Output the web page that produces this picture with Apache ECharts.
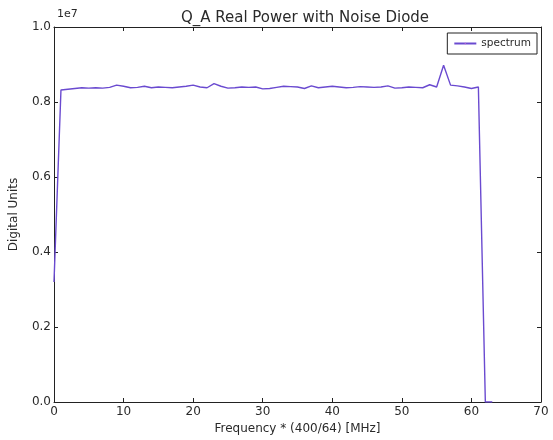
<!DOCTYPE html>
<html>
<head>
<meta charset="utf-8">
<script src="https://cdn.jsdelivr.net/npm/echarts@6/dist/echarts.min.js"></script>
<style>
html,body{margin:0;padding:0;background:#fff;}
#c{width:553px;height:440px;}
</style>
</head>
<body>
<div id="c"></div>
<script>
// Channel index (Frequency * (400/64) [MHz])
var channels = [];
for (var i = 0; i < 64; i++) channels.push(i);
// Power in units of 1e7 digital units
var power = [
  0.320, 0.832, 0.834, 0.836, 0.838, 0.837, 0.838, 0.837, 0.839, 0.845,
  0.842, 0.838, 0.839, 0.842, 0.838, 0.840, 0.839, 0.838, 0.840, 0.842,
  0.845, 0.840, 0.838, 0.849, 0.842, 0.837, 0.838, 0.840, 0.839, 0.840,
  0.835, 0.836, 0.839, 0.842, 0.841, 0.840, 0.836, 0.843, 0.838, 0.840,
  0.842, 0.840, 0.838, 0.839, 0.841, 0.840, 0.839, 0.840, 0.843, 0.837,
  0.838, 0.840, 0.839, 0.838, 0.846, 0.840, 0.898, 0.845, 0.843, 0.840,
  0.836, 0.840, 0.000, 0.000
];
var xTicks = [0, 10, 20, 30, 40, 50, 60, 70];
var yTicks = [0.0, 0.2, 0.4, 0.6, 0.8, 1.0];

var pairs = channels.map(function (c, i) { return [c, power[i]]; });
var font = 'DejaVu Sans';
var txt = '#2a2a2a';
var chart = echarts.init(document.getElementById('c'), null, {renderer: 'canvas'});
function common() {
  return {
    axisLine: {show: true, onZero: false, lineStyle: {color: '#222', width: 1}},
    axisTick: {show: true, inside: true, length: 4, lineStyle: {color: '#222'}},
    splitLine: {show: false}
  };
}
chart.setOption({
  backgroundColor: '#fff',
  animation: false,
  title: {
    text: 'Q_A Real Power with Noise Diode',
    left: 300, top: 6, textAlign: 'center',
    textStyle: {fontFamily: font, fontSize: 15, fontWeight: 'normal', color: txt}
  },
  legend: {
    right: 16, top: 33,
    data: ['spectrum'],
    orient: 'vertical',
    itemWidth: 22, itemHeight: 2,
    padding: [5, 6, 5, 6],
    borderColor: '#222', borderWidth: 1,
    textStyle: {fontFamily: font, fontSize: 10.5, color: txt}
  },
  graphic: [{
    type: 'text', left: 57, top: 9,
    style: {text: '1e7', fontFamily: font, fontSize: 11, fill: txt}
  }],
  grid: {left: 53, right: 12, top: 27, bottom: 38},
  xAxis: [Object.assign(common(), {
    type: 'value', min: 0, max: 70, interval: 10, position: 'bottom',
    name: 'Frequency * (400/64) [MHz]', nameLocation: 'middle', nameGap: 20,
    nameTextStyle: {fontFamily: font, fontSize: 12, color: txt},
    axisLabel: {fontFamily: font, fontSize: 12, color: txt, margin: 4,
      customValues: xTicks}
  }), Object.assign(common(), {
    type: 'value', min: 0, max: 70, interval: 10, position: 'top',
    axisLabel: {show: false}
  })],
  yAxis: [Object.assign(common(), {
    type: 'value', min: 0, max: 1.0, interval: 0.2, position: 'left',
    name: 'Digital Units', nameLocation: 'middle', nameGap: 34,
    nameTextStyle: {fontFamily: font, fontSize: 12, color: txt},
    axisLabel: {fontFamily: font, fontSize: 12, color: txt, margin: 3,
      customValues: yTicks,
      formatter: function (v) { return v.toFixed(1); }}
  }), Object.assign(common(), {
    type: 'value', min: 0, max: 1.0, interval: 0.2, position: 'right',
    axisLabel: {show: false}
  })],
  series: [{
    name: 'spectrum', type: 'line',
    data: pairs,
    symbol: 'none',
    lineStyle: {color: '#6a4ad0', width: 1.4},
    itemStyle: {color: '#b060d0'}
  }]
});
</script>
</body>
</html>
